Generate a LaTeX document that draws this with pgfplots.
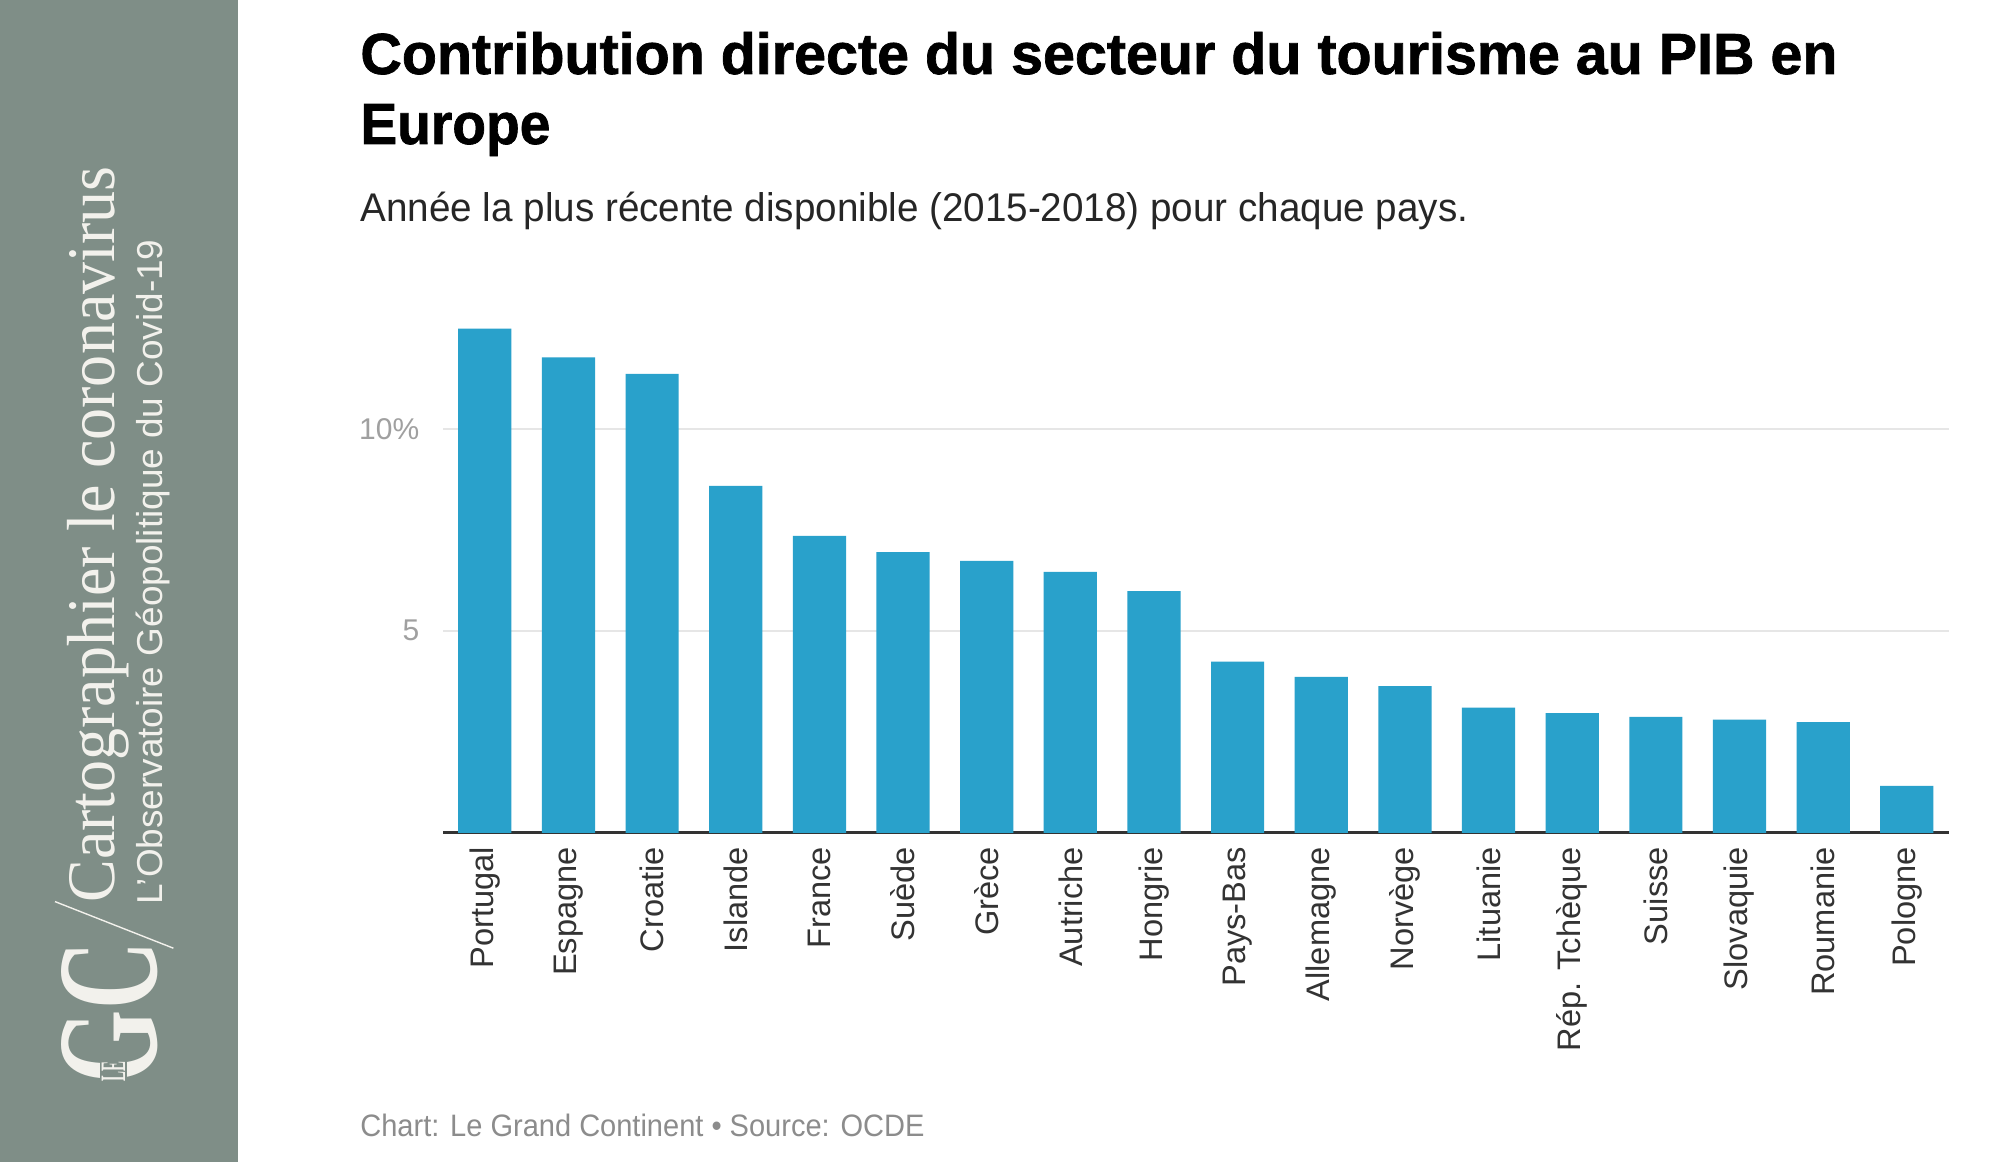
\documentclass[border=0pt]{standalone}
\usepackage{fontspec}
\setmainfont{Liberation Sans}
\newfontfamily\seriff{Liberation Serif}
\newfontfamily\titlef[FakeBold=1.2]{Liberation Sans Bold}
\usepackage{graphicx}
\usepackage{pgfplots}
\pgfplotsset{compat=1.18}
\definecolor{side}{HTML}{7F8E87}
\definecolor{sidetext}{HTML}{F2F1EC}
\definecolor{barblue}{HTML}{29A1CB}
\definecolor{gridc}{HTML}{E6E6E6}
\definecolor{ticklab}{HTML}{A0A0A0}
\definecolor{xlab}{HTML}{333333}
\definecolor{foot}{HTML}{8C8C8C}
\begin{document}
\begin{tikzpicture}
\path[use as bounding box, fill=white] (0,0) rectangle (1008pt,581pt);
\fill[side] (0,0) rectangle (119pt,581pt);
% sidebar texts
\node[rotate=90, anchor=base west, inner sep=0pt, text=sidetext] at (57pt,129.5pt)
  {\resizebox{368pt}{\height}{\fontsize{34}{34}\seriff Cartographier le coronavirus}};
\node[rotate=90, anchor=base west, inner sep=0pt, text=sidetext] at (81pt,128.5pt)
  {\resizebox{332.6pt}{\height}{\fontsize{18}{18}\selectfont L'Observatoire Géopolitique du Covid-19}};
\draw[sidetext, line width=0.7pt] (27.5pt,130.2pt) -- (86.7pt,106.9pt);
\node[rotate=90, inner sep=0pt, text=sidetext] at (54.7pt,74.7pt)
  {\resizebox{70.5pt}{47.5pt}{\seriff\bfseries GC}};
\node[rotate=90, inner sep=1pt, fill=side, text=sidetext] at (56.7pt,45.2pt)
  {\resizebox{10pt}{11.7pt}{\seriff\bfseries LE}};
% titles
\node[anchor=base west, inner sep=0pt] at (180pt,544pt)
  {\resizebox{738.5pt}{\height}{\fontsize{29}{29}\titlef Contribution directe du secteur du tourisme au PIB en}};
\node[anchor=base west, inner sep=0pt] at (180pt,509pt)
  {\resizebox{95pt}{\height}{\fontsize{29}{29}\titlef Europe}};
\node[anchor=base west, inner sep=0pt, text=black!85] at (180pt,470pt)
  {\resizebox{554pt}{\height}{\fontsize{20}{20}\selectfont Année la plus récente disponible (2015-2018) pour chaque pays.}};
\node[anchor=base west, inner sep=0pt, text=foot] at (180pt,12.7pt)
  {\resizebox{282pt}{\height}{\fontsize{15.5}{15.5}\selectfont Chart: Le Grand Continent • Source: OCDE}};
\begin{axis}[
  at={(221.5pt,164.6pt)}, anchor=south west,
  scale only axis, width=752.8pt, height=262.6pt,
  xmin=-0.5, xmax=17.5, ymin=0, ymax=13,
  axis x line=bottom, axis y line=left,
  y axis line style={draw=none},
  x axis line style={line width=1.5pt, color=black!80, -},
  major tick length=0pt,
  tick style={draw=none},
  ymajorgrids, grid style={gridc, line width=0.9pt},
  ytick={5,10}, yticklabels={5,10\%},
  yticklabel style={anchor=east, inner sep=0pt, xshift=-11.7pt, text=ticklab, font=\fontsize{15}{15}\selectfont},
  xtick={0,...,17},
  xticklabels={Portugal,Espagne,Croatie,Islande,France,Suède,Grèce,Autriche,Hongrie,Pays-Bas,Allemagne,Norvège,Lituanie,Rép. Tchèque,Suisse,Slovaquie,Roumanie,Pologne},
  xticklabel style={rotate=90, anchor=east, inner sep=0pt, text=xlab, font=\fontsize{16.3}{16.3}\selectfont},
  xticklabel shift=7pt,
  clip=false,
]
\addplot[ybar, bar width=26.6pt, fill=barblue, draw=none] coordinates {
(0,12.48) (1,11.77) (2,11.36) (3,8.59) (4,7.35) (5,6.95) (6,6.73) (7,6.46) (8,5.98)
(9,4.24) (10,3.86) (11,3.63) (12,3.10) (13,2.96) (14,2.87) (15,2.80) (16,2.74) (17,1.16)
};
\end{axis}
\end{tikzpicture}
\end{document}
